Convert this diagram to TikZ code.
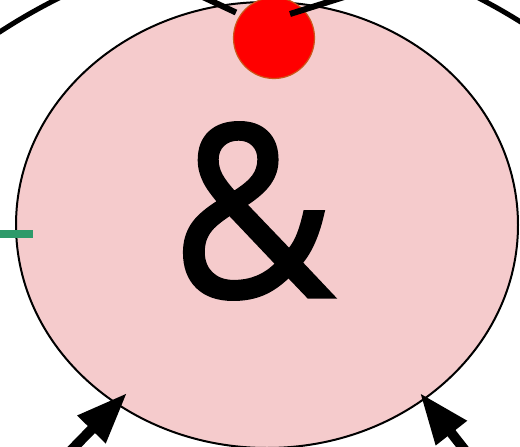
\documentclass[tikz,border=0pt]{standalone}
\usepackage{fontspec}
\setmainfont{Open Sans}
\newfontfamily\ampfont[FakeBold=1.5]{Open Sans}
\usetikzlibrary{shapes.geometric,arrows.meta}
\definecolor{bodypink}{RGB}{245,203,204}
\definecolor{linkgreen}{RGB}{46,154,106}
\definecolor{dotedge}{RGB}{205,85,25}
\begin{document}
\begin{tikzpicture}[x=1pt, y=-1pt,
    body/.style={ellipse, draw=black, line width=2pt, fill=bodypink, minimum width=502pt, minimum height=446pt, inner sep=0pt},
    dot/.style={circle, draw=dotedge, line width=1.2pt, fill=red, minimum size=81pt, inner sep=0pt},
    wire/.style={line width=6pt},
    link/.style={line width=8pt, linkgreen},
    push/.style={line width=10pt, -{Triangle[length=51pt, width=37pt]}}]
    \clip (0,0) rectangle (520,447);
    \fill[white] (0,0) rectangle (520,447);

    % outer arcs, cut by the frame
    \coordinate (arcLa) at (-20,45);
    \coordinate (arcLb) at (75,-10);
    \coordinate (arcRa) at (465,-9);
    \coordinate (arcRb) at (535,31);
    \draw[line width=5pt] (arcLa) to[bend left=4] (arcLb);
    \draw[line width=5pt] (arcRa) to[bend left=3] (arcRb);

    \node[body] (body) at (267,225) {};
    \node[font=\ampfont\fontsize{240}{280}\selectfont, inner sep=0pt, xscale=0.92] (amp) at (253,211) {\&};

    % wires into the red dot
    \coordinate (wireL) at (190,-9);
    \coordinate (wireR) at (360,-8);
    \node[dot] (dot) at (274,38) {};
    \draw[wire] (wireL) -- (236,12.5);
    \draw[wire] (wireR) -- (290,14);

    \coordinate (linkin) at (-5,234);
    \coordinate (linkend) at (33,234);
    \draw[link] (linkin) -- (linkend);

    % arrows from below
    \coordinate (pushL) at (49,473);
    \coordinate (tipL) at (127,393);
    \coordinate (pushR) at (489,481);
    \coordinate (tipR) at (420,393);
    \draw[push] (pushL) -- (tipL);
    \draw[push] (pushR) -- (tipR);
\end{tikzpicture}
\end{document}
